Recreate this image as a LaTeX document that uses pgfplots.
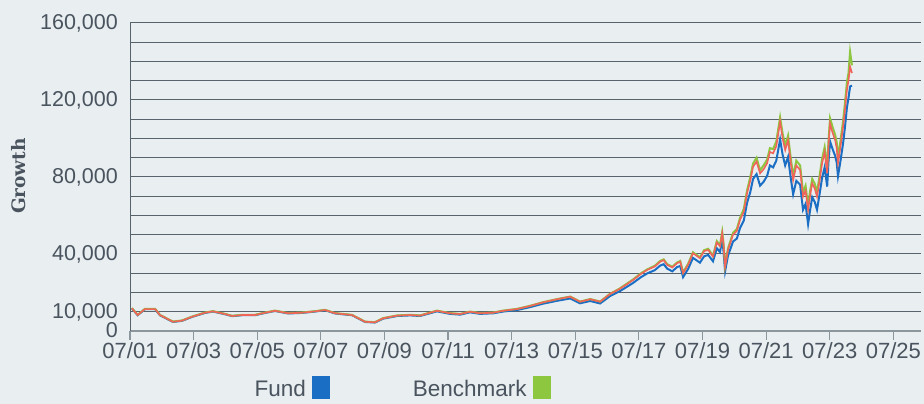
\documentclass[border=0pt]{standalone}
\usepackage{fontspec}
\setmainfont{Liberation Sans}
\newfontfamily\slabfont{DejaVu Serif}
\usepackage{pgfplots}
\pgfplotsset{compat=1.18}
\usepackage{pgfplotstable}
\definecolor{bg}{RGB}{233,238,241}
\definecolor{txt}{RGB}{74,84,94}
\definecolor{gridc}{RGB}{88,98,106}
\definecolor{xaxc}{RGB}{140,150,157}
\definecolor{fundblue}{RGB}{26,110,196}
\definecolor{benchgreen}{RGB}{141,198,63}
\definecolor{redline}{RGB}{240,100,90}

\pgfplotstableread{
x R G B
2001.56 11800 11900 11700
2001.74 8300 8400 8200
2001.97 11400 11500 11300
2002.29 11400 11500 11300
2002.44 8300 8400 8200
2002.85 4800 4900 4700
2003.14 5400 5500 5300
2003.45 7400 7500 7300
2003.86 9500 9600 9400
2004.11 10200 10300 10100
2004.49 8800 8900 8700
2004.71 7800 7900 7700
2005.02 8300 8400 8200
2005.43 8300 8400 8200
2005.75 9500 9600 9400
2006.06 10500 10600 10400
2006.47 9200 9300 9100
2006.91 9500 9600 9400
2007.32 10200 10300 10100
2007.63 10900 11000 10800
2007.95 9200 9300 9100
2008.48 8300 8400 8200
2008.89 4800 4900 4700
2009.20 4500 4600 4400
2009.46 6600 6700 6400
2009.90 8000 8100 7800
2010.31 8300 8400 8100
2010.62 8000 8100 7800
2011.15 10500 10600 10200
2011.56 9200 9300 8900
2011.88 8800 8900 8500
2012.19 10000 10100 9700
2012.51 9200 9300 8900
2012.92 9500 9600 9200
2013.23 10500 10600 10100
2013.67 11400 11500 10900
2014.08 13000 13100 12400
2014.49 14900 15000 14200
2014.93 16500 16600 15700
2015.34 17800 17900 16900
2015.65 15200 15300 14400
2015.97 16500 16600 15600
2016.28 15200 15300 14300
2016.59 19200 19300 18100
2016.88 21700 21900 20500
2017.05 23500 23800 22200
2017.32 26500 26800 25000
2017.55 29500 29800 27800
2017.76 31700 32000 29900
2018.00 33500 33900 31600
2018.17 36000 36400 34000
2018.28 36800 37200 34700
2018.39 34300 34700 32400
2018.55 33000 33400 31000
2018.70 35200 35600 33200
2018.80 36000 36400 33800
2018.89 30000 30400 28000
2019.05 34500 35000 32300
2019.20 40400 40900 38000
2019.42 37800 38300 35500
2019.55 41500 42000 38800
2019.68 42100 42700 39500
2019.83 38600 39100 36200
2019.95 46000 46700 43000
2020.05 44000 44700 41000
2020.12 50700 51500 47500
2020.16 45000 45800 41500
2020.21 33400 34000 31000
2020.30 42000 42800 39000
2020.46 50000 51000 46500
2020.58 52000 53000 48000
2020.68 57700 58800 53500
2020.80 62000 63500 57500
2020.90 71500 73000 66500
2021.00 78000 79800 72000
2021.09 85300 87000 79000
2021.20 88000 90000 81500
2021.31 81900 83500 75500
2021.42 84000 86000 77500
2021.53 87100 89000 80500
2021.62 93000 95000 86000
2021.72 92300 94500 85000
2021.82 96000 98500 88500
2021.94 108700 111000 99500
2022.02 100000 102500 91500
2022.10 94000 96500 86000
2022.19 99200 101500 90500
2022.27 88000 90500 80000
2022.35 78400 80500 71000
2022.45 86000 88500 78000
2022.57 83600 86000 76000
2022.66 69800 72000 63000
2022.74 73000 75500 66000
2022.82 62900 65000 55500
2022.88 70000 72500 62500
2022.95 76700 79000 69500
2023.03 74000 76500 67000
2023.10 69800 72000 63000
2023.18 78000 80500 71000
2023.26 87100 89500 79500
2023.34 93000 95500 85000
2023.42 81900 84500 75000
2023.46 96000 98500 87500
2023.51 107800 110500 98500
2023.59 103000 106000 94500
2023.67 99200 102000 91000
2023.72 95000 98000 87500
2023.76 87100 90000 80400
2023.84 96000 99000 88500
2023.92 106100 109000 97500
2023.98 115000 118500 106000
2024.04 125200 129000 116000
2024.09 130000 134000 121000
2024.14 137300 145000 127000
2024.20 134000 138000 127500
}\growth

\begin{document}
\begin{tikzpicture}
\fill[bg] (0,0) rectangle (924pt,404pt);
\begin{axis}[
  at={(130pt,73pt)}, anchor=south west,
  scale only axis, width=791pt, height=308pt,
  xmin=2001.5, xmax=2026.37, ymin=0, ymax=160000,
  axis x line=bottom, axis y line=left,
  axis line style={-},
  x axis line style={draw=xaxc, line width=1.2pt},
  y axis line style={draw=gridc, line width=1pt},
  xtick={2001.5,2003.5,2005.5,2007.5,2009.5,2011.5,2013.5,2015.5,2017.5,2019.5,2021.5,2023.5,2025.5},
  xticklabels={07/01,07/03,07/05,07/07,07/09,07/11,07/13,07/15,07/17,07/19,07/21,07/23,07/25},
  ytick={0,10000,40000,80000,120000,160000},
  minor ytick={20000,30000,50000,60000,70000,90000,100000,110000,130000,140000,150000},
  ymajorgrids, yminorgrids,
  major grid style={draw=gridc, line width=1pt},
  minor grid style={draw=gridc, line width=1pt},
  tick align=outside,
  major tick length=9pt, minor tick length=0pt,
  xtick style={draw=xaxc, line width=1.2pt},
  ytick style={draw=none},
  scaled y ticks=false,
  /pgf/number format/.cd, fixed, 1000 sep={,}, assume math mode=true,
  /pgfplots/.cd,
  xticklabel style={font=\fontsize{22}{24}\selectfont, text=txt, inner sep=2pt},
  yticklabel style={font=\fontsize{21.5}{24}\selectfont, text=txt,
    inner xsep=3pt, inner ysep=0pt, text height=15pt, text depth=1.5pt},
  ylabel={\slabfont\bfseries\fontsize{18.5}{20}\selectfont Growth},
  ylabel style={at={(axis description cs:-0.1403,0.503)}, anchor=center, text=txt},
  legend columns=2,
  legend plot pos=right,
  legend style={at={(axis description cs:0.3433,-0.185)}, anchor=center,
    draw=none, fill=none, font=\fontsize{22.5}{24}\selectfont, text=txt,
    column sep=0pt, /tikz/every even column/.append style={column sep=81pt}},
]
\addplot[fundblue, line width=2pt,
  legend image code/.code={\path (0pt,0pt); \fill[fundblue] (4pt,-8pt) rectangle (20pt,13pt);}]
  table[x=x, y=B] {\growth};
\addlegendentry{Fund}
\addplot[benchgreen, line width=2pt,
  legend image code/.code={\path (0pt,0pt); \fill[benchgreen] (4pt,-8pt) rectangle (20pt,13pt);}]
  table[x=x, y=G] {\growth};
\addlegendentry{Benchmark}
\addplot[redline, line width=1.6pt, forget plot] table[x=x, y=R] {\growth};
\end{axis}
\pgfresetboundingbox
\useasboundingbox (0,0) rectangle (924pt,404pt);
\end{tikzpicture}
\end{document}
